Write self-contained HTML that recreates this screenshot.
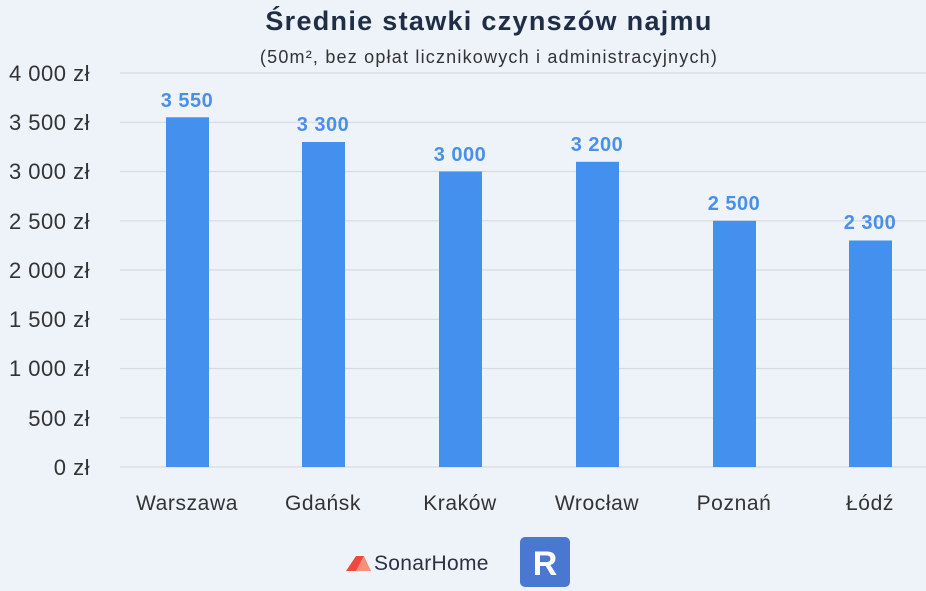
<!DOCTYPE html>
<html><head><meta charset="utf-8"><style>
body{margin:0;width:926px;height:591px;background:#eef2f9;overflow:hidden;font-family:"Liberation Sans",sans-serif;}
</style></head><body>
<svg width="926" height="591" xmlns="http://www.w3.org/2000/svg" style="position:absolute;left:0;top:0">
<text x="489" y="30" text-anchor="middle" font-size="27" font-weight="bold" letter-spacing="1.3" fill="#1f2d47">Średnie stawki czynszów najmu</text>
<text x="489" y="63" text-anchor="middle" font-size="18" letter-spacing="1.2" fill="#333">(50m², bez opłat licznikowych i administracyjnych)</text>
<g stroke="#d6dbe3" stroke-width="1.2">
<line x1="120" x2="926" y1="73" y2="73"/><line x1="120" x2="926" y1="122.3" y2="122.3"/>
<line x1="120" x2="926" y1="171.5" y2="171.5"/><line x1="120" x2="926" y1="220.8" y2="220.8"/>
<line x1="120" x2="926" y1="270" y2="270"/><line x1="120" x2="926" y1="319.3" y2="319.3"/>
<line x1="120" x2="926" y1="368.5" y2="368.5"/><line x1="120" x2="926" y1="417.8" y2="417.8"/>
<line x1="120" x2="926" y1="467" y2="467"/>
</g>
<g font-size="22" fill="#333" text-anchor="end" letter-spacing="0.5">
<text x="90" y="81">4 000 zł</text><text x="90" y="130">3 500 zł</text>
<text x="90" y="179">3 000 zł</text><text x="90" y="229">2 500 zł</text>
<text x="90" y="278">2 000 zł</text><text x="90" y="327">1 500 zł</text>
<text x="90" y="376">1 000 zł</text><text x="90" y="426">500 zł</text>
<text x="90" y="475">0 zł</text>
</g>
<g fill="#4390ee">
<rect x="166" y="117.3" width="43" height="349.7"/>
<rect x="302" y="142" width="43" height="325"/>
<rect x="439" y="171.5" width="43" height="295.5"/>
<rect x="576" y="161.8" width="43" height="305.2"/>
<rect x="713" y="220.8" width="43" height="246.2"/>
<rect x="849" y="240.5" width="43" height="226.5"/>
</g>
<g font-size="20" font-weight="bold" fill="#4a8fe8" text-anchor="middle" letter-spacing="0.5">
<text x="187" y="107">3 550</text><text x="323" y="131">3 300</text>
<text x="460" y="161">3 000</text><text x="597" y="151">3 200</text>
<text x="734" y="210">2 500</text><text x="870" y="229">2 300</text>
</g>
<g font-size="21" fill="#333" text-anchor="middle" letter-spacing="0.6">
<text x="187" y="510">Warszawa</text><text x="323" y="510">Gdańsk</text>
<text x="460" y="510">Kraków</text><text x="597" y="510">Wrocław</text>
<text x="734" y="510">Poznań</text><text x="870" y="510">Łódź</text>
</g>
<polygon points="346,571 356,556 364,556 356,571" fill="#f0473f"/>
<polygon points="356,571 364,556 371,571" fill="#f7907a"/>
<text x="374" y="570" font-size="21" fill="#2a3242" letter-spacing="0.3">SonarHome</text>
<rect x="520" y="537" width="50" height="50" rx="5" fill="#4a78d0"/>
<text x="545" y="575" text-anchor="middle" font-size="34" font-weight="bold" fill="#fff">R</text>
</svg>
</body></html>
